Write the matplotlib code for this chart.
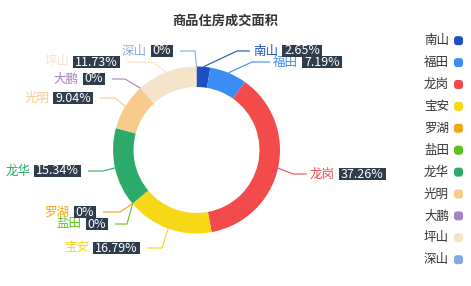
import numpy as np
import matplotlib
matplotlib.use('Agg')
import matplotlib.pyplot as plt
from matplotlib.patches import Rectangle, FancyBboxPatch

plt.rcParams['font.family'] = ['Noto Sans CJK SC', 'DejaVu Sans']

# data
districts = ['南山', '福田', '龙岗', '宝安', '罗湖', '盐田', '龙华', '光明', '大鹏', '坪山', '深山']
shares = [2.65, 7.19, 37.26, 16.79, 0, 0, 15.34, 9.04, 0, 11.73, 0]
colors = ['#1d50c0', '#3c8cf5', '#f34a4c', '#f7d816', '#f3a60c', '#5ec21c',
          '#2caa69', '#f8ca8b', '#a283c4', '#f5e4c9', '#84a7e6']
title = '商品住房成交面积'

# label layout in pixels: elbow x, elbow y, end of horizontal leg, side
label_layout = [
    (237, 51, 250, 'r'),
    (252, 62, 270, 'r'),
    (293, 174, 307, 'r'),
    (162, 248, 147, 'l'),
    (120, 212, 103, 'l'),
    (127, 224, 115, 'l'),
    (103, 171, 88, 'l'),
    (115, 98, 100, 'l'),
    (125, 79, 112, 'l'),
    (153, 62, 127, 'l'),
    (195, 51, 180, 'l'),
]

W, H = 471, 286
fig = plt.figure(figsize=(W / 100, H / 100), dpi=100)
ax = fig.add_axes([0, 0, 1, 1])

def py(y):
    return H - y

cx, cy, R, r = 196.5, 150, 83.5, 63
ax.pie(shares, colors=colors, center=(cx, py(cy)), radius=R, startangle=90,
       counterclock=False, wedgeprops=dict(width=R - r, linewidth=0))
ax.set_xlim(0, W)
ax.set_ylim(0, H)
ax.set_aspect('equal')
ax.axis('off')

ax.text(225, py(21), title, ha='center', va='center', fontsize=9.5,
        fontweight='bold', color='#333333')

renderer = fig.canvas.get_renderer()
fs = 9
box_col = '#2e3c4c'
box_h = 12.5
pad = 2

cum = np.cumsum([0] + shares[:-1])
for i, name in enumerate(districts):
    mid = cum[i] + shares[i] / 2
    th = np.deg2rad(90 - 360 * mid / 100)
    sx, sy = cx + R * np.cos(th), py(cy) + R * np.sin(th)
    ex, ey, hx, side = label_layout[i]
    ax.plot([sx, ex, hx], [sy, py(ey), py(ey)], color=colors[i], lw=0.8,
            solid_capstyle='butt')
    pct = f'{shares[i]:g}%'
    if side == 'r':
        t1 = ax.text(hx + 3, py(ey), name, ha='left', va='center',
                     fontsize=fs, color=colors[i])
        bb = t1.get_window_extent(renderer)
        bx0 = bb.x1 + 4
        t2 = ax.text(bx0 + pad, py(ey), pct, ha='left', va='center',
                     fontsize=fs, color='white', zorder=5)
        b2 = t2.get_window_extent(renderer)
        bx1 = b2.x1 + pad
    else:
        bx1 = hx - 7
        t2 = ax.text(bx1 - pad, py(ey), pct, ha='right', va='center',
                     fontsize=fs, color='white', zorder=5)
        b2 = t2.get_window_extent(renderer)
        bx0 = b2.x0 - pad
        ax.text(bx0 - 4, py(ey), name, ha='right', va='center',
                fontsize=fs, color=colors[i])
    ax.add_patch(Rectangle((bx0, py(ey) - box_h / 2), bx1 - bx0, box_h,
                           facecolor=box_col, edgecolor='none', zorder=4))

# legend
for i, name in enumerate(districts):
    ly = 40.7 + i * 21.9
    ax.text(449, py(ly), name, ha='right', va='center', fontsize=fs,
            color='#333333')
    ax.add_patch(FancyBboxPatch((454, py(ly) - 4.5), 9, 9,
                                boxstyle='round,pad=0,rounding_size=3',
                                facecolor=colors[i], edgecolor='none'))

fig.savefig('out.png', dpi=100)
